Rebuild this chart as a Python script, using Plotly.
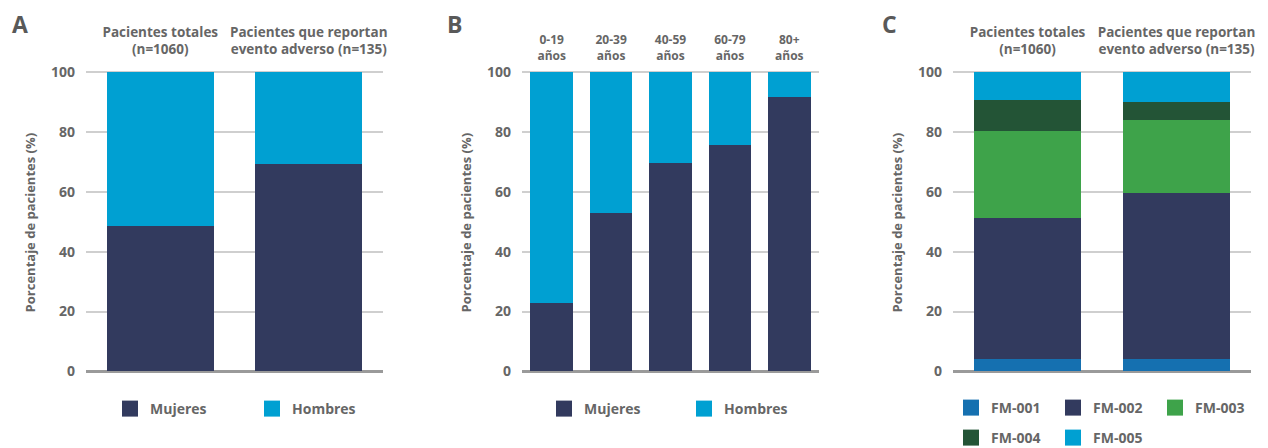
import plotly.graph_objects as go

# ---------------- data ----------------
cat_a = ["Pacientes totales<br>(n=1060)", "Pacientes que reportan<br>evento adverso (n=135)"]
a_mujeres = [48.6, 69.4]
a_hombres = [51.4, 30.6]

cat_b = ["0-19<br>años", "20-39<br>años", "40-59<br>años", "60-79<br>años", "80+<br>años"]
b_mujeres = [22.8, 53.0, 69.7, 75.8, 91.8]
b_hombres = [77.2, 47.0, 30.3, 24.2, 8.2]

cat_c = ["Pacientes totales<br>(n=1060)", "Pacientes que reportan<br>evento adverso (n=135)"]
c_fm001 = [4.0, 4.0]
c_fm002 = [47.3, 55.7]
c_fm003 = [29.1, 24.4]
c_fm004 = [10.4, 6.0]
c_fm005 = [9.2, 9.9]

y_ticks = [0, 20, 40, 60, 80, 100]
y_title = "Porcentaje de pacientes (%)"

# ---------------- style ----------------
W, H = 1268, 448
OFF = 8  # page offset of the figure inside the browser window
FONT = "Open Sans"
GREY_TXT = "#666666"
C_MUJ = "#323A5E"
C_HOM = "#00A0D2"
C_FM = {"FM-001": "#1570B0", "FM-002": "#323A5E", "FM-003": "#3EA34A",
        "FM-004": "#235436", "FM-005": "#00A0D2"}

fig = go.Figure()

def bar(x, y, color, xa, ya):
    fig.add_trace(go.Bar(x=x, y=y, marker=dict(color=color, line=dict(width=0)),
                         xaxis=xa, yaxis=ya, showlegend=False, hoverinfo="skip"))

def leg(name, color, legend):
    fig.add_trace(go.Scatter(x=[None], y=[None], mode="markers", name=name,
                             marker=dict(symbol="square", size=16, color=color),
                             legend=legend, showlegend=True, xaxis="x", yaxis="y"))

# Panel A
bar(cat_a, a_mujeres, C_MUJ, "x", "y")
bar(cat_a, a_hombres, C_HOM, "x", "y")
# Panel B
bar(cat_b, b_mujeres, C_MUJ, "x2", "y2")
bar(cat_b, b_hombres, C_HOM, "x2", "y2")
# Panel C
for nm, vals in [("FM-001", c_fm001), ("FM-002", c_fm002), ("FM-003", c_fm003),
                 ("FM-004", c_fm004), ("FM-005", c_fm005)]:
    bar(cat_c, vals, C_FM[nm], "x3", "y3")

leg("Mujeres", C_MUJ, "legend")
leg("Hombres", C_HOM, "legend")
leg("Mujeres", C_MUJ, "legend2")
leg("Hombres", C_HOM, "legend2")
leg("FM-001", C_FM["FM-001"], "legend3")
leg("FM-002", C_FM["FM-002"], "legend3")
leg("FM-003", C_FM["FM-003"], "legend3")
leg("FM-004", C_FM["FM-004"], "legend4")
leg("FM-005", C_FM["FM-005"], "legend4")

def px(v):
    return (v - OFF) / W

def py(v):
    return 1 - (v - OFF) / H

ydom = [py(374.3), py(71.0)]
xdoms = [[px(86), px(383)], [px(522), px(819)], [px(953), px(1251)]]

def xaxis(dom, size, standoff):
    return dict(domain=dom, side="top", showgrid=False, showline=False, zeroline=False,
                ticks="", automargin=False,
                tickfont=dict(family=FONT, size=size, color=GREY_TXT, weight=700),
                ticklabelstandoff=standoff, fixedrange=True)

def yaxis(anchor):
    return dict(domain=ydom, anchor=anchor, range=[-1, 100.5], tickvals=y_ticks,
                showgrid=True, gridcolor="#CFCFCF", gridwidth=2,
                zeroline=True, zerolinecolor="#9A9A9A", zerolinewidth=3,
                showline=False, ticks="", automargin=False,
                tickfont=dict(family=FONT, size=14, color=GREY_TXT, weight=700),
                ticklabelstandoff=10,
                title=dict(text=y_title, standoff=12,
                           font=dict(family=FONT, size=13, color=GREY_TXT, weight=700)),
                fixedrange=True)

def legend_cfg(x, y, ew):
    return dict(orientation="h", x=x, y=y, xanchor="left", yanchor="middle",
                entrywidth=ew, entrywidthmode="pixels", itemsizing="trace",
                traceorder="normal",
                font=dict(family=FONT, size=14, color=GREY_TXT, weight=700),
                bgcolor="rgba(0,0,0,0)", itemclick=False, itemdoubleclick=False)

fig.update_layout(
    width=W, height=H, margin=dict(l=0, r=0, t=0, b=0, autoexpand=False),
    paper_bgcolor="white", plot_bgcolor="white",
    barmode="stack", bargap=0.28,
    xaxis=xaxis(xdoms[0], 13.5, 13),
    xaxis2=xaxis(xdoms[1], 12, 8),
    xaxis3=xaxis(xdoms[2], 13.5, 13),
    yaxis=yaxis("x"), yaxis2=yaxis("x2"), yaxis3=yaxis("x3"),
    legend=legend_cfg(px(110), py(409), 97),
    legend2=legend_cfg(px(544), py(409), 95),
    legend3=legend_cfg(px(951), py(408), 57),
    legend4=legend_cfg(px(951), py(438), 57),
    annotations=[
        dict(text="<b>A</b>", x=px(10), y=py(24), xref="paper", yref="paper",
             xanchor="left", yanchor="middle", showarrow=False,
             font=dict(family=FONT, size=23, color="#595959")),
        dict(text="<b>B</b>", x=px(445), y=py(24), xref="paper", yref="paper",
             xanchor="left", yanchor="middle", showarrow=False,
             font=dict(family=FONT, size=23, color="#595959")),
        dict(text="<b>C</b>", x=px(880), y=py(24), xref="paper", yref="paper",
             xanchor="left", yanchor="middle", showarrow=False,
             font=dict(family=FONT, size=23, color="#595959")),
    ],
)

fig.write_html("out.html")
